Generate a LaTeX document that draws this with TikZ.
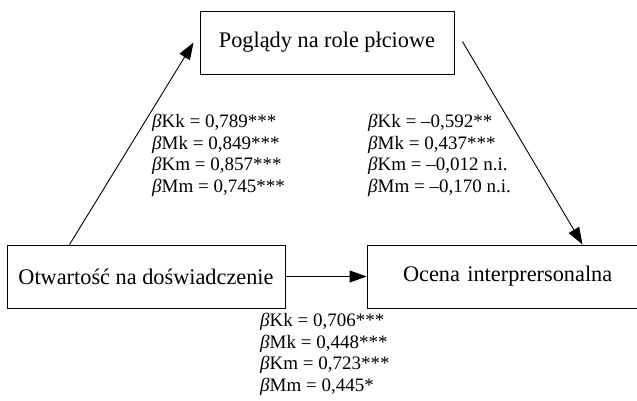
\documentclass[tikz,border=0pt]{standalone}
\usepackage{fontspec}
\setmainfont{Liberation Serif}
\usetikzlibrary{arrows.meta}
\begin{document}
\begin{tikzpicture}[x=1pt,y=-1pt,
  box/.style={draw,line width=0.9pt,inner sep=0pt,font=\fontsize{22.3}{24}\selectfont},
  arr/.style={line width=0.9pt,-{Triangle[length=17pt,width=12pt]}},
  lab/.style={align=left,anchor=north west,inner sep=0pt,font=\fontsize{19}{21.5}\selectfont}]
\useasboundingbox (0,0) rectangle (637,401);
\node[box,minimum width=254pt,minimum height=63pt] (pg) at (327,42.5) {Poglądy na role płciowe};
\node[box,minimum width=278pt,minimum height=63pt] (ob) at (146,276.5) {Otwartość na doświadczenie};
\node[box,minimum width=278pt,minimum height=63pt,text width=278pt,align=left] (oc) at (506,276.5) {\hspace{36pt}Ocena interprersonalna};
\coordinate (s1) at ([xshift=63pt]ob.north west);
\coordinate (e1) at ([xshift=-6pt]pg.west);
\coordinate (s2) at ([xshift=8pt,yshift=1pt]pg.east);
\coordinate (e2) at ([xshift=216pt]oc.north west);
\draw[arr] (s1) -- (e1);
\draw[arr] (s2) -- (e2);
\draw[arr] (ob.east) -- (oc.west);
\node[lab] (l1) at (152,114) {{\itshape β}Kk = 0,789***\\{\itshape β}Mk = 0,849***\\{\itshape β}Km = 0,857***\\{\itshape β}Mm = 0,745***};
\node[lab] (l2) at (368,114) {{\itshape β}Kk = –0,592**\\{\itshape β}Mk = 0,437***\\{\itshape β}Km = –0,012 n.i.\\{\itshape β}Mm = –0,170 n.i.};
\node[lab] (l3) at (260,313) {{\itshape β}Kk = 0,706***\\{\itshape β}Mk = 0,448***\\{\itshape β}Km = 0,723***\\{\itshape β}Mm = 0,445*};
\end{tikzpicture}
\end{document}
